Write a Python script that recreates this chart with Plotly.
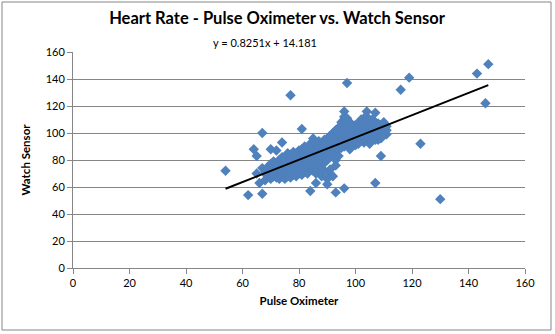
import plotly.graph_objects as go

# Heart-rate readings: pulse oximeter (x) against watch sensor (y), bpm
pulse_ox = [
    54, 62, 67, 66, 68, 67, 65, 65, 64, 67,
    70, 72, 74, 77, 81, 85, 97, 116, 119, 143,
    147, 146, 123, 109, 107, 130, 93, 96, 93, 90,
    86, 84, 104, 107, 96, 110, 111, 91,
    68, 68,
    69, 69, 69,
    70, 70, 70, 70,
    71, 71, 71, 71,
    72, 72, 72, 72, 72,
    73, 73, 73, 73, 73,
    74, 74, 74, 74, 74,
    75, 75, 75, 75, 75,
    76, 76, 76, 76, 76, 76,
    77, 77, 77, 77, 77, 77,
    78, 78, 78, 78, 78, 78,
    79, 79, 79, 79, 79, 79,
    80, 80, 80, 80, 80, 80, 80,
    81, 81, 81, 81, 81, 81, 81,
    82, 82, 82, 82, 82, 82, 82,
    83, 83, 83, 83, 83, 83, 83,
    84, 84, 84, 84, 84, 84, 84,
    85, 85, 85, 85, 85, 85, 85,
    86, 86, 86, 86, 86, 86, 86,
    87, 87, 87, 87, 87, 87, 87,
    88, 88, 88, 88, 88, 88, 88,
    89, 89, 89, 89, 89, 89, 89,
    90, 90, 90, 90, 90, 90, 90,
    91, 91, 91, 91, 91, 91, 91,
    92, 92, 92, 92, 92, 92, 92,
    93, 93, 93, 93, 93, 93, 93,
    94, 94, 94, 94, 94, 94, 94,
    95, 95, 95, 95, 95, 95, 95,
    96, 96, 96, 96, 96, 96, 96, 96,
    97, 97, 97, 97, 97, 97, 97,
    98, 98, 98, 98, 98, 98, 98,
    99, 99, 99, 99, 99, 99,
    100, 100, 100, 100, 100, 100,
    101, 101, 101, 101, 101, 101,
    102, 102, 102, 102, 102, 102,
    103, 103, 103, 103, 103, 103,
    104, 104, 104, 104, 104, 104,
    105, 105, 105, 105, 105, 105,
    106, 106, 106, 106, 106,
    107, 107, 107, 107, 107,
    108, 108, 108, 108, 108,
    109, 109, 109, 109,
    110, 110, 110,
    111, 111,
]
watch_sensor = [
    72, 54, 55, 63, 65, 74, 70, 83, 88, 100,
    88, 87, 93, 128, 103, 96, 137, 132, 141, 144,
    151, 122, 92, 83, 63, 51, 76, 59, 56, 62,
    63, 57, 116, 115, 116, 108, 99, 70,
    70, 72,
    68, 73, 75,
    66, 70, 74, 77,
    68, 72, 76, 79,
    67, 70, 74, 78, 73,
    69, 72, 76, 80, 66,
    68, 71, 75, 79, 82,
    70, 73, 77, 81, 66,
    68, 72, 75, 79, 83, 85,
    70, 74, 77, 80, 84, 67,
    69, 72, 76, 79, 82, 86,
    71, 74, 78, 81, 85, 68,
    70, 73, 77, 80, 83, 87, 75,
    72, 75, 78, 82, 85, 88, 69,
    71, 74, 77, 80, 84, 87, 90,
    73, 76, 79, 82, 86, 89, 70,
    74, 77, 80, 83, 86, 90, 92,
    72, 76, 79, 82, 85, 88, 93,
    75, 78, 81, 84, 87, 90, 70,
    73, 77, 80, 83, 86, 89, 94,
    76, 79, 82, 85, 88, 92, 68,
    78, 81, 84, 87, 90, 95, 72,
    80, 83, 86, 89, 92, 96, 66,
    82, 85, 88, 91, 94, 98, 73,
    84, 87, 90, 93, 96, 100, 68,
    86, 89, 92, 95, 98, 102, 80,
    88, 91, 94, 97, 100, 104, 83,
    89, 92, 95, 98, 101, 105, 108,
    90, 93, 96, 99, 102, 106, 110, 112,
    91, 94, 97, 100, 103, 107, 111,
    92, 95, 98, 101, 104, 108, 88,
    93, 96, 99, 102, 105, 94,
    94, 97, 100, 103, 106, 91,
    95, 98, 101, 104, 107, 92,
    96, 99, 102, 105, 108, 110,
    93, 97, 100, 103, 106, 111,
    95, 98, 101, 104, 108, 112,
    96, 99, 102, 105, 109, 92,
    97, 100, 103, 106, 110,
    95, 99, 102, 105, 108,
    98, 101, 104, 107, 95,
    100, 103, 106, 96,
    101, 104, 107,
    102, 105,
]

# Linear trendline as reported on the chart
slope = 0.8251
intercept = 14.181

axis_ticks = [0, 20, 40, 60, 80, 100, 120, 140, 160]

W, H = 555, 334
ML, MR, MT, MB = 73, 30, 52, 66
pw, ph = W - ML - MR, H - MT - MB

x_lo, x_hi = min(pulse_ox), max(pulse_ox)
trend_x = [x_lo, x_hi]
trend_y = [slope * v + intercept for v in trend_x]

font = "Lato, Calibri, Carlito, Arial, sans-serif"
grey = "#868686"

fig = go.Figure()
fig.add_trace(go.Scatter(
    x=pulse_ox, y=watch_sensor, mode="markers",
    marker=dict(symbol="diamond", size=8, color="#4F81BD", line=dict(width=0)),
    showlegend=False, hoverinfo="x+y",
))
fig.add_trace(go.Scatter(
    x=trend_x, y=trend_y, mode="lines",
    line=dict(color="black", width=2), showlegend=False, hoverinfo="skip",
))


def px_x(p):
    return (p - ML) / pw


def px_y(p):
    return (H - MB - p) / ph


fig.update_layout(
    width=W, height=H,
    margin=dict(l=ML, r=MR, t=MT, b=MB),
    paper_bgcolor="white", plot_bgcolor="white",
    font=dict(family=font, size=11, color="#000000"),
    title=dict(
        text="<b>Heart Rate - Pulse Oximeter vs. Watch Sensor</b>",
        x=px_x(277), xanchor="center", xref="paper",
        y=1 - 18 / H, yanchor="middle",
        font=dict(family=font, size=16.5, color="#000000"),
    ),
    xaxis=dict(
        range=[0, 160], tickvals=axis_ticks, showgrid=False, zeroline=False,
        showline=True, linecolor=grey, linewidth=1,
        ticks="outside", ticklen=5, tickcolor=grey, tickwidth=1,
        tickfont=dict(family=font, size=11, color="#000000"),
        title=dict(text="<b>Pulse Oximeter</b>", standoff=8,
                   font=dict(family=font, size=11.5, color="#000000")),
    ),
    yaxis=dict(
        range=[0, 160], tickvals=axis_ticks, showgrid=True, gridcolor=grey,
        gridwidth=1, zeroline=False,
        showline=True, linecolor=grey, linewidth=1,
        ticks="outside", ticklen=5, tickcolor=grey, tickwidth=1,
        tickfont=dict(family=font, size=11, color="#000000"),
        title=dict(text="<b>Watch Sensor</b>", standoff=12,
                   font=dict(family=font, size=11.5, color="#000000")),
    ),
    annotations=[dict(
        text="y = 0.8251x + 14.181", xref="paper", yref="paper",
        x=px_x(265), y=px_y(42), xanchor="center", yanchor="middle",
        showarrow=False, font=dict(family=font, size=11, color="#000000"),
    )],
    shapes=[dict(
        type="rect", xref="paper", yref="paper", layer="below",
        x0=px_x(2), x1=px_x(551), y0=px_y(330), y1=px_y(2),
        line=dict(color=grey, width=1), fillcolor="rgba(0,0,0,0)",
    )],
)

fig.write_html("out.html")
